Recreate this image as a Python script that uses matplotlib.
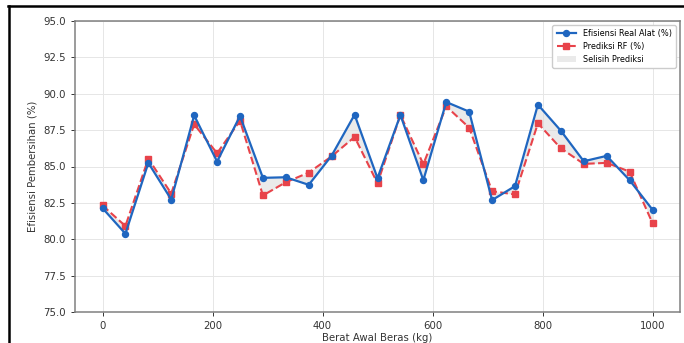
import numpy as np
import matplotlib.pyplot as plt
from matplotlib.lines import Line2D

# data
berat = np.linspace(0, 1000, 25)
efisiensi_real = [82.14, 80.38, 85.25, 82.73, 88.51, 85.34, 88.47, 84.22, 84.26,
                  83.74, 85.75, 88.56, 84.20, 88.54, 84.06, 89.43, 88.77, 82.69,
                  83.65, 89.25, 87.46, 85.36, 85.73, 84.06, 82.03]
prediksi_rf = [82.32, 80.91, 85.54, 83.14, 87.90, 85.91, 88.15, 83.01, 83.92,
               84.58, 85.70, 87.03, 83.85, 88.54, 85.16, 89.13, 87.67, 83.30,
               83.08, 87.97, 86.25, 85.18, 85.25, 84.65, 81.11]
y_ticks = [75.0, 77.5, 80.0, 82.5, 85.0, 87.5, 90.0, 92.5, 95.0]
x_ticks = [0, 200, 400, 600, 800, 1000]

biru = '#1f66c0'
merah = '#e8434a'
fs = 7.3

fig = plt.figure(figsize=(6.84, 3.43), dpi=100)
ax = fig.add_axes([75/684, 31/343, 605/684, 291/343])

ax.fill_between(berat, efisiensi_real, prediksi_rf, color='#d9d9d9', alpha=0.55,
                linewidth=0, label='Selisih Prediksi', zorder=1)
ax.plot(berat, efisiensi_real, '-o', color=biru, linewidth=1.6, markersize=4.3,
        label='Efisiensi Real Alat (%)', zorder=3)
ax.plot(berat, prediksi_rf, '--s', color=merah, linewidth=1.5, markersize=4.3,
        label='Prediksi RF (%)', zorder=2)

ax.set_xlim(-50, 1050)
ax.set_ylim(75, 95)
ax.set_xticks(x_ticks)
ax.set_yticks(y_ticks)
ax.set_yticklabels(['%.1f' % v for v in y_ticks])
ax.tick_params(labelsize=fs, colors='#333333', length=3, width=0.7)
ax.grid(True, color='#e6e6e6', linewidth=0.7)
ax.set_axisbelow(True)
for s in ax.spines.values():
    s.set_color('#808080')
    s.set_linewidth(1.1)

ax.set_xlabel('Berat Awal Beras (kg)', fontsize=fs, color='#333333', labelpad=1.5)
ax.set_ylabel('Efisiensi Pembersihan (%)', fontsize=fs, color='#333333', labelpad=4)

h, l = ax.get_legend_handles_labels()
ax.legend([h[1], h[2], h[0]], [l[1], l[2], l[0]], loc='upper right',
          fontsize=5.9, frameon=True, framealpha=1, edgecolor='#cccccc',
          borderpad=0.5, handlelength=2.4, labelspacing=0.45)

# black frame of the document screenshot
fig.add_artist(Line2D([8/684, 1], [1 - 6/343, 1 - 6/343], color='black',
                      linewidth=1.8, transform=fig.transFigure))
fig.add_artist(Line2D([9/684, 9/684], [0, 1 - 6/343], color='black',
                      linewidth=1.8, transform=fig.transFigure))

fig.savefig('out.png', dpi=100)
